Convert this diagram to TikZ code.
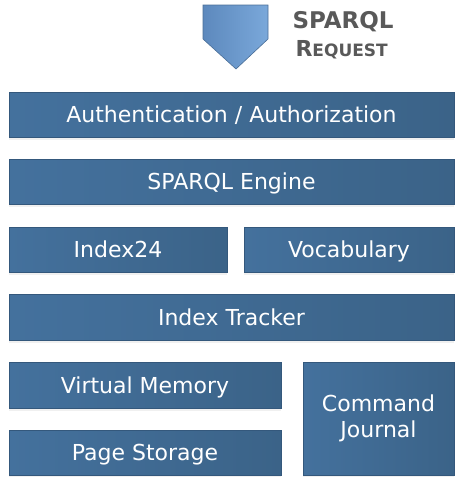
\documentclass[tikz,border=0pt]{standalone}
\usepackage{fontspec}
\setmainfont{DejaVu Sans}
\usetikzlibrary{shadows}
\definecolor{boxlight}{HTML}{44719D}
\definecolor{boxdark}{HTML}{3B6388}
\definecolor{boxedge}{HTML}{34587C}
\definecolor{arrowlight}{HTML}{7AA8DA}
\definecolor{arrowdark}{HTML}{5D89BD}
\definecolor{reqgray}{HTML}{595959}
\tikzset{
  layer/.style={draw=boxedge, line width=0.8pt, left color=boxlight, right color=boxdark,
    text=white, font=\fontsize{22}{26}\selectfont, align=center, inner sep=0pt,
    drop shadow={opacity=0.12, shadow xshift=0pt, shadow yshift=-2.5pt}},
  oneline/.style={text height=17pt, text depth=1pt},
}
\begin{document}
\begin{tikzpicture}[x=1pt,y=-1pt]
  \useasboundingbox (0,0) rectangle (455,477);
  % request arrow
  \draw[draw=arrowdark!80!black, line width=0.6pt, left color=arrowdark, right color=arrowlight]
    (203,5) -- (268,5) -- (268,39) -- (236,69) -- (203,39) -- cycle;
  \node[text=reqgray, font=\bfseries\fontsize{23}{27}\selectfont, anchor=west] (req1) at (289,22) {SPARQL};
  \node[text=reqgray, font=\bfseries, anchor=west] (req2) at (292,50)
    {\fontsize{22}{26}\selectfont R\fontsize{17}{26}\selectfont EQUEST};
  % layers
  \node[layer, oneline, minimum width=445pt, minimum height=45pt] (auth) at (231.5,114.5) {Authentication / Authorization};
  \node[layer, oneline, minimum width=445pt, minimum height=45pt] (engine) at (231.5,181.5) {SPARQL Engine};
  \node[layer, oneline, minimum width=218pt, minimum height=45pt] (index) at (118,249.5) {Index24};
  \node[layer, oneline, minimum width=210pt, minimum height=45pt] (vocab) at (349,249.5) {Vocabulary};
  \node[layer, oneline, minimum width=445pt, minimum height=46pt] (tracker) at (231.5,317) {Index Tracker};
  \node[layer, oneline, minimum width=272pt, minimum height=46pt] (vmem) at (145,385) {Virtual Memory};
  \node[layer, oneline, minimum width=272pt, minimum height=45pt] (pages) at (145,452.5) {Page Storage};
  \node[layer, minimum width=151pt, minimum height=113pt] (journal) at (378.5,418.5) {Command\\Journal};
\end{tikzpicture}
\end{document}
